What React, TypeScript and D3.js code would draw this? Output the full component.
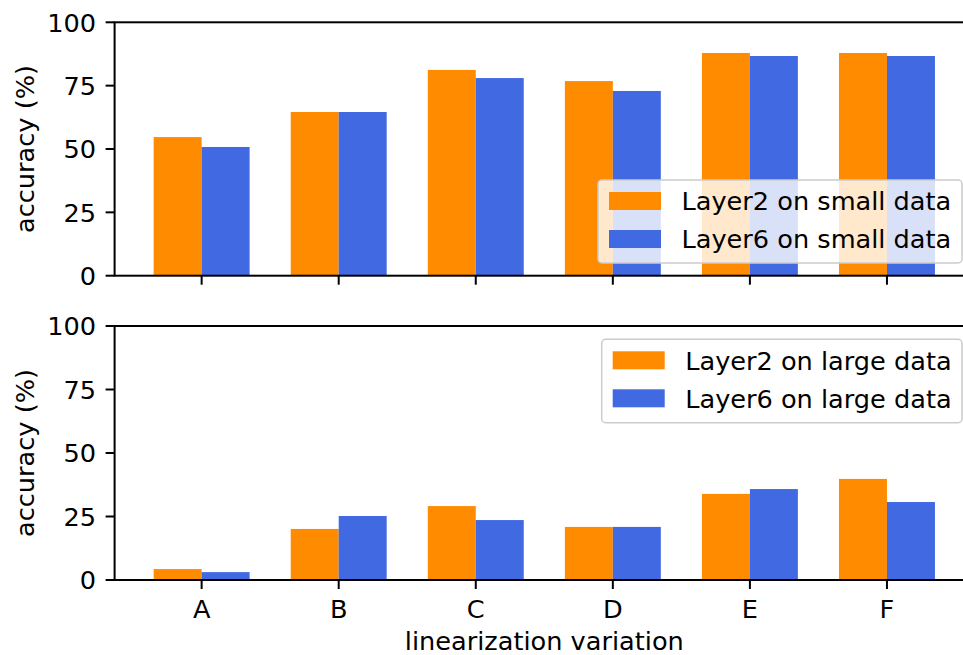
import React from "react";
import * as d3 from "d3";

const categories = ["A", "B", "C", "D", "E", "F"];
const smallLayer2 = [54.7, 64.6, 81.2, 76.8, 87.9, 87.9];
const smallLayer6 = [50.8, 64.6, 78.0, 72.9, 86.7, 86.7];
const largeLayer2 = [4.3, 20.1, 29.1, 20.9, 33.9, 39.8];
const largeLayer6 = [3.1, 25.2, 23.6, 20.9, 35.8, 30.7];
const yTicks = [0, 25, 50, 75, 100];
const legendTop = ["Layer2 on small data", "Layer6 on small data"];
const legendBottom = ["Layer2 on large data", "Layer6 on large data"];

const ORANGE = "#ff8c00";
const BLUE = "#4169e1";
const FONT = "DejaVu Sans";
const FS = 25.6;

const W = 963;
const H = 655;
const left = 114.6;
const right = 974;
const barW = 0.35;

const x = d3.scaleLinear().domain([-0.635, 5.635]).range([left, right]);

type PanelProps = {
  top: number;
  bottom: number;
  s1: number[];
  s2: number[];
  showLabels: boolean;
  legend: string[];
  legendBox: { x: number; y: number; w: number; h: number };
};

function Panel({ top, bottom, s1, s2, showLabels, legend, legendBox }: PanelProps) {
  const y = d3.scaleLinear().domain([0, 100]).range([bottom, top]);
  const bw = x(barW) - x(0);
  const mid = (top + bottom) / 2;
  return (
    <g>
      {categories.map((c, i) => (
        <g key={c}>
          <rect x={x(i - barW)} y={y(s1[i])} width={bw} height={y(0) - y(s1[i])} fill={ORANGE} />
          <rect x={x(i)} y={y(s2[i])} width={bw} height={y(0) - y(s2[i])} fill={BLUE} />
        </g>
      ))}
      <rect x={left} y={top} width={right - left} height={bottom - top} fill="none" stroke="#000" strokeWidth={2} />
      {yTicks.map((t) => (
        <g key={t}>
          <line x1={left - 9} x2={left} y1={y(t)} y2={y(t)} stroke="#000" strokeWidth={2} />
          <text x={left - 18.5} y={y(t)} dy="0.36em" textAnchor="end" fontFamily={FONT} fontSize={FS}>
            {t}
          </text>
        </g>
      ))}
      {categories.map((c, i) => (
        <g key={c}>
          <line x1={x(i)} x2={x(i)} y1={bottom} y2={bottom + 9} stroke="#000" strokeWidth={2} />
          {showLabels && (
            <text x={x(i)} y={618} textAnchor="middle" fontFamily={FONT} fontSize={FS}>
              {c}
            </text>
          )}
        </g>
      ))}
      <text
        transform={`translate(33.5,${mid}) rotate(-90)`}
        textAnchor="middle"
        fontFamily={FONT}
        fontSize={FS}
      >
        accuracy (%)
      </text>
      <g>
        <rect
          x={legendBox.x}
          y={legendBox.y}
          width={legendBox.w}
          height={legendBox.h}
          rx={4}
          fill="#fff"
          fillOpacity={0.8}
          stroke="#cccccc"
          strokeWidth={1.5}
        />
        {legend.map((l, i) => (
          <g key={l}>
            <rect
              x={legendBox.x + 11}
              y={legendBox.y + 12 + i * 38}
              width={52}
              height={18}
              fill={i === 0 ? ORANGE : BLUE}
            />
            <text
              x={legendBox.x + 83.5}
              y={legendBox.y + 21 + i * 38}
              dy="0.36em"
              fontFamily={FONT}
              fontSize={FS}
            >
              {l}
            </text>
          </g>
        ))}
      </g>
    </g>
  );
}

export default function App() {
  return (
    <svg width={W} height={H} style={{ position: "absolute", left: 0, top: 0 }}>
      <rect width={W} height={H} fill="#fff" />
      <Panel
        top={22.3}
        bottom={275.7}
        s1={smallLayer2}
        s2={smallLayer6}
        showLabels={false}
        legend={legendTop}
        legendBox={{ x: 598, y: 180, w: 364, h: 83 }}
      />
      <Panel
        top={326}
        bottom={580}
        s1={largeLayer2}
        s2={largeLayer6}
        showLabels={true}
        legend={legendBottom}
        legendBox={{ x: 601.7, y: 339.3, w: 360.3, h: 83.4 }}
      />
      <text x={(left + right) / 2} y={650} textAnchor="middle" fontFamily={FONT} fontSize={FS}>
        linearization variation
      </text>
    </svg>
  );
}
